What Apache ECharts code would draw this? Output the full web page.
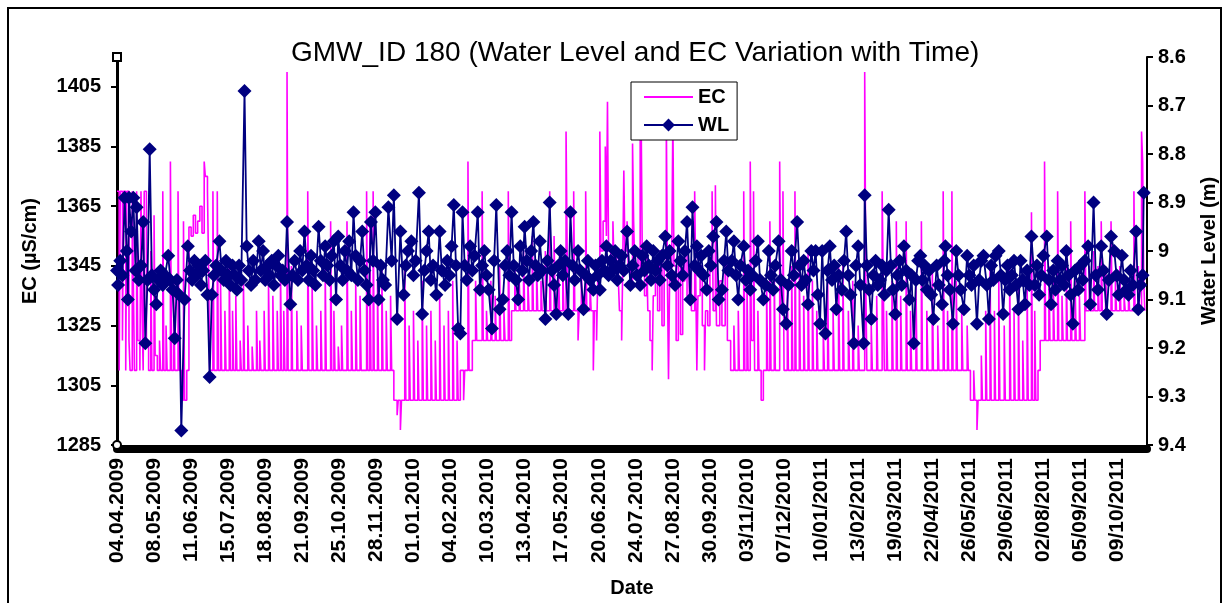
<!DOCTYPE html>
<html lang="en">
<head>
<meta charset="UTF-8">
<title>GMW_ID 180</title>
<script src="https://cdn.jsdelivr.net/npm/echarts@6/dist/echarts.min.js"></script>
<style>
    html, body { margin: 0; padding: 0; background: #fff; }
    #chart { width: 1227px; height: 603px; }
</style>
</head>
<body>
<div id="chart"></div>
<script>
// x = day counted from 04.04.2009, one date label every 34 days
var tickLabels = ['04.04.2009', '08.05.2009', '11.06.2009', '15.07.2009', '18.08.2009', '21.09.2009',
    '25.10.2009', '28.11.2009', '01.01.2010', '04.02.2010', '10.03.2010', '13.04.2010', '17.05.2010',
    '20.06.2010', '24.07.2010', '27.08.2010', '30.09.2010', '03/11/2010', '07/12/2010', '10/01/2011',
    '13/02/2011', '19/03/2011', '22/04/2011', '26/05/2011', '29/06/2011', '02/08/2011', '05/09/2011',
    '09/10/2011'];

// EC (µS/cm): [day, value], value holds until the next change
var ecData = [
    [0,1370],[2,1310],[3,1370],[5,1320],[6,1370],[8,1310],[9,1370],[11,1320],[12,1310],[14,1370],[15,1340],[16,1310],
    [18,1370],[19,1320],[21,1310],[22,1370],[23,1330],[24,1310],[25,1370],[27,1320],[29,1310],
    [31,1350],[32,1310],[34,1362],[35,1315],[37,1310],[39,1320],[40,1310],[42,1370],[43,1310],[45,1325],[46,1310],
    [49,1380],[50,1310],[52,1340],[53,1310],[56,1370],[57,1310],[59,1300],[61,1360],[62,1300],[64,1310],
    [66,1358],[68,1355],[70,1362],[72,1356],[74,1360],[76,1365],[78,1356],[80,1380],[81,1375],[83,1370],[84,1345],
    [85,1310],[88,1370],[89,1310],[92,1370],[93,1310],[95,1340],[96,1310],[99,1330],[100,1310],[103,1345],[104,1310],
    [106,1330],[107,1310],[109,1335],[110,1310],[113,1320],[114,1310],[116,1340],[117,1310],[120,1325],[121,1310],
    [124,1318],[125,1310],[128,1330],[129,1310],[131,1320],[132,1310],[135,1330],[136,1310],[139,1340],[140,1310],
    [143,1335],[144,1310],[147,1330],[148,1310],[150,1345],[151,1310],[153,1330],[154,1310],[156,1410],[157,1310],
    [160,1345],[161,1310],[165,1330],[166,1310],[169,1325],[170,1310],[175,1370],[176,1310],[179,1340],[180,1310],
    [183,1325],[184,1310],[187,1330],[188,1310],[191,1345],[192,1310],[196,1360],[197,1310],[199,1330],[200,1310],
    [203,1318],[204,1310],[206,1325],[207,1310],[211,1360],[212,1310],[215,1330],[216,1310],[219,1340],[220,1310],
    [223,1335],[224,1310],[229,1370],[230,1310],[232,1360],[233,1310],[235,1370],[236,1310],[239,1340],[240,1310],
    [243,1345],[244,1310],[247,1330],[248,1310],[251,1335],[252,1310],
    [254,1300],[257,1295],[258,1300],[260,1290],[261,1300],[264,1345],[265,1300],[268,1325],[269,1300],[272,1330],
    [273,1300],[276,1320],[277,1300],[280,1340],[281,1300],[284,1325],[285,1300],[288,1330],[289,1300],[292,1320],
    [293,1300],[296,1335],[297,1300],[300,1325],[301,1300],[304,1330],[305,1300],[308,1340],[309,1300],[312,1320],
    [313,1300],[315,1310],[318,1300],[319,1310],[322,1380],[323,1310],
    [326,1320],[329,1340],[330,1320],[335,1370],[336,1320],[339,1330],[340,1320],[343,1340],[344,1320],[347,1335],
    [348,1320],[351,1345],[352,1320],[355,1330],[356,1320],[359,1370],[360,1320],
    [362,1330],[365,1345],[366,1330],[369,1340],[370,1330],[373,1350],[374,1330],[377,1340],[378,1330],[381,1355],
    [382,1330],[385,1345],[386,1330],[389,1340],[390,1330],[393,1350],[394,1330],[397,1370],[398,1330],[401,1355],
    [402,1330],[405,1345],[406,1330],[409,1345],[410,1330],[412,1390],[413,1350],[414,1330],[419,1370],[420,1330],
    [423,1320],[424,1330],[426,1345],[427,1330],[430,1370],[431,1330],[434,1340],[435,1330],[437,1310],[438,1330],
    [440,1320],[441,1340],[443,1390],[444,1350],[446,1360],[448,1385],[449,1355],[450,1400],[451,1350],[453,1345],
    [455,1360],[456,1345],[458,1350],[460,1340],[461,1330],[463,1320],[464,1345],[465,1377],[466,1350],[468,1360],
    [469,1345],[471,1340],[473,1386],[474,1360],[475,1345],
    [476,1350],[478,1340],[480,1388],[481,1390],[482,1345],[484,1335],[486,1350],[487,1330],[489,1320],[491,1310],
    [492,1335],[494,1345],[496,1330],[498,1350],[500,1325],[502,1345],[504,1395],[505,1340],[506,1307],[507,1340],
    [509,1350],[510,1395],[511,1345],[513,1320],[515,1345],[517,1322],[519,1340],[521,1350],[523,1335],[525,1345],
    [527,1330],[530,1370],[531,1340],[532,1310],[533,1335],[535,1345],[537,1325],[539,1310],[540,1330],[542,1325],
    [544,1345],[546,1370],[547,1330],[549,1372],[550,1325],[553,1340],[555,1325],[558,1345],[560,1320],[563,1310],
    [566,1325],[567,1310],[570,1330],[571,1310],[575,1370],[576,1310],[578,1340],[579,1310],[581,1380],[582,1320],
    [584,1370],[585,1310],[588,1330],[589,1310],[591,1300],[593,1310],[596,1340],[597,1310],[599,1360],[600,1310],
    [603,1345],[604,1310],[608,1380],[609,1330],[611,1370],[612,1310],[615,1340],[616,1310],[619,1345],[620,1310],
    [622,1370],[623,1310],[626,1345],[627,1310],[630,1335],[631,1310],[634,1350],[635,1310],[638,1340],[639,1310],
    [642,1330],[643,1310],[648,1325],[649,1310],[652,1340],[653,1310],[657,1330],[658,1310],[662,1345],[663,1310],
    [666,1345],[667,1310],[671,1330],[672,1310],[675,1340],[676,1310],[680,1325],[681,1310],[686,1410],[687,1340],
    [688,1310],[692,1325],[693,1310],[697,1335],[698,1310],[702,1370],[703,1340],[704,1310],[706,1330],[707,1310],
    [711,1340],[712,1310],[715,1360],[716,1310],[719,1335],[720,1310],[724,1360],[725,1310],[728,1330],[729,1310],
    [733,1340],[734,1310],[738,1360],[739,1310],[743,1330],[744,1310],[748,1345],[749,1310],[753,1325],[754,1310],
    [758,1370],[759,1310],[762,1330],[763,1310],[766,1370],[767,1310],[770,1340],[771,1310],[775,1330],[776,1310],
    [780,1325],[781,1310],
    [783,1300],[786,1310],[787,1300],[789,1290],[790,1300],[793,1315],[794,1300],[797,1330],[798,1300],[801,1345],
    [802,1300],[805,1330],[806,1300],[809,1340],[810,1300],[814,1325],[815,1300],[819,1345],[820,1300],[823,1330],
    [824,1300],[827,1340],[828,1300],[831,1320],[832,1300],[835,1340],[836,1300],[839,1363],[840,1300],[842,1330],
    [843,1300],[845,1310],[847,1320],[851,1380],[852,1320],[855,1345],[856,1320],[859,1340],[860,1320],[863,1370],
    [864,1320],[867,1335],[868,1320],[871,1345],[872,1320],[875,1360],[876,1320],[879,1340],[880,1320],[883,1335],
    [884,1320],[888,1370],[889,1330],[892,1345],[893,1330],[896,1350],[897,1330],[900,1345],[901,1330],[903,1360],
    [904,1330],[907,1345],[908,1330],[912,1360],[913,1330],[916,1340],[917,1330],[920,1345],[921,1330],[924,1335],
    [925,1330],[928,1340],[929,1330],[933,1370],[934,1330],[937,1345],[938,1330],[940,1390],[941,1380],[942,1340],
    [943,1330]
];

// water level (m below ground): [day, value]
var wlData = [
    [0,9.04],[1,9.07],[3,9.02],[5,9.05],[7,8.89],[9,9.00],[10,9.10],[11,8.89],[13,8.96],[15,8.89],[17,9.04],[18,8.91],
    [20,9.06],[22,9.03],[24,8.94],[26,9.19],[28,9.06],[30,8.79],[32,9.05],[34,9.08],[36,9.11],[38,9.06],[40,9.04],
    [42,9.07],[44,9.05],[47,9.01],[49,9.06],[51,9.08],[53,9.18],[55,9.06],[57,9.09],[59,9.37],[62,9.10],[65,8.99],
    [67,9.04],[69,9.06],[71,9.02],[73,9.05],[75,9.03],[77,9.07],[79,9.04],[81,9.02],[83,9.09],[85,9.26],[87,9.09],
    [89,9.05],[91,9.03],[94,8.98],[96,9.04],[98,9.06],[100,9.02],[102,9.05],[104,9.07],[106,9.03],[108,9.05],[110,9.08],
    [112,9.03],[114,9.06],[117,8.67],[119,8.99],[121,9.04],[123,9.07],[125,9.02],[127,9.06],[130,8.98],[132,9.04],
    [134,9.00],[136,9.06],[138,9.03],[140,9.05],[142,9.02],[144,9.07],[146,9.03],[148,9.01],[150,9.05],[152,9.04],
    [154,9.06],[156,8.94],[159,9.11],[161,9.05],[163,9.02],[166,9.06],[168,9.00],[170,9.04],[172,8.96],[174,9.03],
    [176,9.06],[178,9.01],[180,9.04],[182,9.07],[185,8.95],[187,9.02],[189,9.05],[191,8.99],[193,9.03],[195,9.06],
    [197,9.01],[199,8.98],[201,9.10],[203,8.97],[205,9.03],[207,9.06],[209,9.00],[211,9.04],[213,8.98],[215,9.05],
    [217,8.92],[219,9.01],[221,9.06],[223,9.02],[225,8.96],[227,9.04],[229,9.07],[231,9.10],[233,8.94],[235,9.02],
    [237,8.92],[240,9.10],[242,9.03],[244,9.06],[246,9.07],[249,8.91],[252,9.02],[254,8.885],[257,9.14],[260,8.96],
    [263,9.09],[265,9.03],[267,9.00],[270,8.98],[272,9.05],[274,9.02],[277,8.88],[280,9.13],[282,9.04],[284,9.00],
    [286,8.96],[288,9.06],[290,9.03],[293,9.09],[296,8.96],[298,9.04],[301,9.07],[303,9.02],[305,9.05],[307,8.99],
    [309,8.905],[311,9.03],[313,9.16],[315,9.17],[317,8.92],[319,9.03],[321,9.06],[324,8.99],[326,9.04],[328,9.01],
    [331,8.92],[333,9.08],[335,9.03],[337,9.00],[339,9.05],[341,9.08],[344,9.16],[346,9.02],[348,8.905],[351,9.12],
    [354,9.10],[356,9.03],[358,9.00],[360,9.05],[362,8.92],[364,9.03],[366,9.06],[368,9.10],[370,8.99],[372,9.04],
    [374,8.95],[376,9.02],[378,9.06],[380,9.00],[382,8.94],[384,9.03],[386,9.05],[388,8.98],[390,9.04],[393,9.14],
    [395,9.02],[397,8.90],[399,9.04],[401,9.07],[403,9.13],[405,9.03],[407,9.00],[409,9.05],[411,9.02],[414,9.13],
    [416,8.92],[418,9.03],[420,9.06],[423,9.00],[425,9.04],[428,9.12],[430,9.05],[432,9.02],[434,9.06],[437,9.08],
    [439,9.03],[441,9.05],[443,9.08],[445,9.02],[447,9.04],[449,8.99],[451,9.05],[453,9.02],[455,9.04],[457,9.00],
    [459,9.06],[461,9.03],[463,9.01],[465,9.04],[468,8.96],[471,9.07],[473,9.03],[475,9.00],[477,9.05],[480,9.07],
    [482,9.01],[484,9.04],[486,8.99],[488,9.03],[490,9.06],[492,9.00],[494,9.04],[496,9.02],[498,9.06],[500,9.01],
    [503,8.97],[505,9.03],[507,9.00],[509,9.05],[512,9.07],[515,8.98],[517,9.02],[519,9.05],[521,9.00],[523,8.94],
    [526,9.10],[528,8.91],[530,9.03],[532,8.99],[534,9.04],[536,9.01],[538,9.05],[541,9.08],[543,9.00],[545,9.03],
    [547,8.97],[550,8.94],[552,9.10],[555,9.08],[557,9.02],[559,8.96],[561,9.04],[564,9.02],[566,8.98],[568,9.05],
    [570,9.10],[572,9.03],[575,8.99],[577,9.06],[579,9.04],[581,9.08],[583,9.05],[586,9.02],[588,8.98],[590,9.06],
    [593,9.10],[595,9.07],[598,9.00],[600,9.05],[602,9.08],[604,9.03],[607,8.98],[609,9.06],[611,9.12],[614,9.15],
    [616,9.07],[619,9.00],[621,9.05],[624,8.94],[626,9.03],[628,9.07],[630,9.02],[632,9.06],[634,9.11],[637,9.00],
    [639,9.04],[641,9.00],[643,9.09],[645,9.15],[647,9.00],[650,9.17],[652,9.04],[654,8.99],[656,9.06],[658,9.03],
    [660,9.12],[662,9.05],[665,9.08],[667,9.02],[669,8.96],[671,9.05],[673,9.09],[676,9.19],[678,9.03],[680,8.99],
    [682,9.07],[685,9.19],[686,8.885],[688,9.03],[690,9.08],[692,9.14],[694,9.05],[696,9.02],[698,9.07],[700,9.06],
    [702,9.03],[704,9.09],[706,9.04],[708,8.915],[710,9.03],[712,9.08],[714,9.13],[716,9.05],[718,9.02],[720,9.07],
    [722,8.99],[724,9.04],[727,9.10],[729,9.05],[731,9.19],[733,9.06],[735,9.02],[737,9.01],[739,9.06],[741,9.03],
    [743,9.08],[745,9.04],[747,9.09],[749,9.14],[752,9.03],[754,9.07],[757,9.11],[759,9.02],[760,8.99],[762,9.05],
    [764,9.08],[767,9.15],[770,9.00],[772,9.05],[774,9.08],[777,9.12],[780,9.01],[782,9.05],[784,9.07],[786,9.03],
    [789,9.15],[791,9.06],[793,9.02],[795,9.01],[798,9.07],[800,9.14],[802,9.03],[804,9.06],[806,9.01],[809,9.00],
    [811,9.05],[813,9.13],[815,9.06],[817,9.03],[819,9.08],[821,9.05],[823,9.02],[825,9.07],[827,9.12],[829,9.02],
    [831,9.06],[833,9.11],[835,9.04],[837,9.07],[839,8.97],[842,9.07],[844,9.03],[846,9.09],[848,9.05],[850,9.01],
    [853,8.97],[855,9.06],[857,9.11],[859,9.04],[861,9.08],[863,9.02],[865,9.06],[867,9.03],[869,9.07],[871,9.00],
    [873,9.05],[875,9.09],[877,9.15],[879,9.04],[882,9.08],[884,9.03],[886,9.06],[888,9.02],[891,8.99],[893,9.11],
    [896,8.90],[898,9.05],[900,9.08],[903,8.99],[905,9.04],[908,9.13],[910,9.06],[912,8.97],[915,9.00],[917,9.05],
    [919,9.09],[922,9.01],[924,9.06],[926,9.08],[928,9.09],[930,9.04],[932,9.07],[935,8.96],[937,9.12],[939,9.07],
    [941,9.05],[942,8.88]
];

var font = 'Liberation Sans, Arial, sans-serif';
var bold = { fontFamily: font, fontWeight: 'bold', fontSize: 20, color: '#000' };

var chart = echarts.init(document.getElementById('chart'));
chart.setOption({
    animation: false,
    backgroundColor: '#fff',
    textStyle: { fontFamily: font },
    title: {
        text: 'GMW_ID 180 (Water Level and EC Variation with Time)',
        left: 286,
        top: 34,
        textStyle: { fontFamily: font, fontWeight: 'normal', fontSize: 28, color: '#000' }
    },
    graphic: [{
        type: 'rect',
        shape: { x: 8, y: 8, width: 1213, height: 620 },
        style: { fill: 'none', stroke: '#000', lineWidth: 2 },
        silent: true
    }],
    legend: {
        orient: 'vertical',
        left: 631,
        top: 82,
        backgroundColor: '#fff',
        borderColor: '#000',
        borderWidth: 1,
        padding: [4, 8, 4, 12],
        itemGap: 6,
        itemWidth: 49,
        itemHeight: 16,
        textStyle: Object.assign({ lineHeight: 22 }, bold),
        data: [
            { name: 'EC', itemStyle: { color: 'rgba(0,0,0,0)', borderWidth: 0 } },
            { name: 'WL' }
        ]
    },
    grid: { left: 117, right: 80, top: 57, bottom: 158 },
    xAxis: {
        type: 'value',
        min: 0,
        max: 945,
        interval: 34,
        offset: 4,
        name: 'Date',
        nameLocation: 'middle',
        nameGap: 129,
        nameTextStyle: bold,
        axisLine: { lineStyle: { color: '#000', width: 8 } },
        axisTick: { show: false },
        splitLine: { show: false },
        axisLabel: {
            rotate: 90,
            margin: 9,
            showMaxLabel: false,
            fontFamily: font, fontWeight: 'bold', fontSize: 21, color: '#000',
            formatter: function (v) {
                return v % 34 === 0 ? (tickLabels[v / 34] || '') : '';
            }
        }
    },
    yAxis: [{
        type: 'value',
        position: 'left',
        min: 1285,
        max: 1415,
        interval: 20,
        name: 'EC (µS/cm)',
        nameLocation: 'middle',
        nameRotate: 90,
        nameGap: 77,
        nameTextStyle: bold,
        axisLine: {
            show: true,
            symbol: ['emptyCircle', 'emptyRect'],
            symbolSize: [8, 8],
            lineStyle: { color: '#000', width: 3 }
        },
        axisTick: { show: true, length: 6, lineStyle: { color: '#000', width: 2 } },
        splitLine: { show: false },
        axisLabel: {
            margin: 16,
            showMaxLabel: false,
            fontFamily: font, fontWeight: 'bold', fontSize: 20, color: '#000',
            formatter: function (v) {
                return (v - 1285) % 20 === 0 ? String(v) : '';
            }
        }
    }, {
        type: 'value',
        position: 'right',
        inverse: true,
        min: 8.6,
        max: 9.4,
        interval: 0.1,
        name: 'Water Level (m)',
        nameLocation: 'middle',
        nameRotate: 90,
        nameGap: 52,
        nameTextStyle: bold,
        axisLine: { show: true, lineStyle: { color: '#000', width: 2 } },
        axisTick: { show: true, length: 6, lineStyle: { color: '#000', width: 2 } },
        splitLine: { show: false },
        axisLabel: {
            margin: 11,
            fontFamily: font, fontWeight: 'bold', fontSize: 20, color: '#000',
            formatter: function (v) {
                return String(Math.round(v * 10) / 10);
            }
        }
    }],
    series: [{
        name: 'EC',
        type: 'line',
        yAxisIndex: 0,
        step: 'end',
        data: ecData,
        symbol: 'none',
        itemStyle: { color: '#ff00ff' },
        lineStyle: { color: '#ff00ff', width: 1.6 }
    }, {
        name: 'WL',
        type: 'line',
        yAxisIndex: 1,
        data: wlData,
        symbol: 'diamond',
        symbolSize: 14,
        showAllSymbol: true,
        itemStyle: { color: '#000080' },
        lineStyle: { color: '#000080', width: 1.8 }
    }]
});
</script>
</body>
</html>
